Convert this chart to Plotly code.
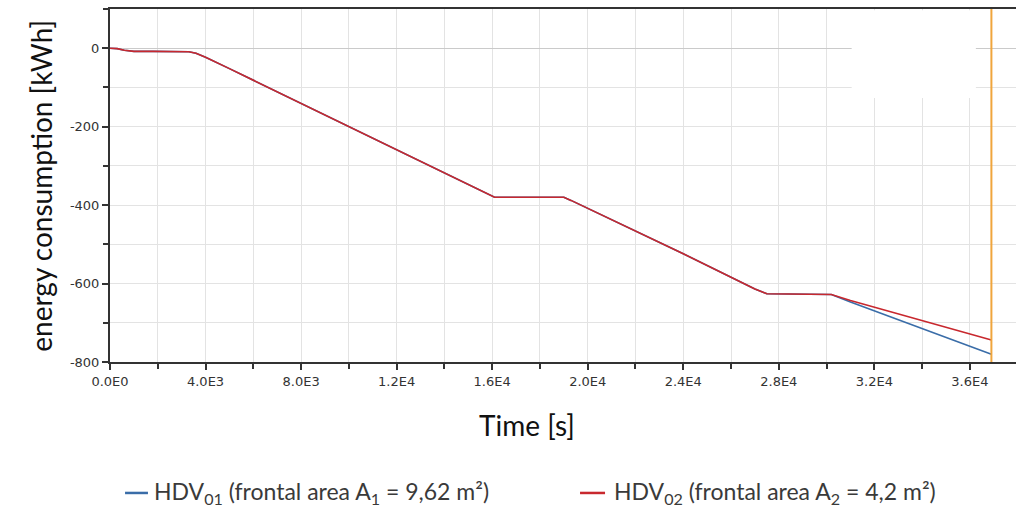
import plotly.graph_objects as go

# ---- data ----
time_s = [0, 300, 600, 1000, 1800, 3300, 3600, 4000, 5000, 8000, 12000, 16100,
          19000, 19300, 24000, 27000, 27500, 30200, 31000, 33000, 35000, 36900]
hdv01 = [0, -1, -5, -8, -8, -9, -13, -23, -52, -141, -260, -380,
         -380, -388, -524, -614, -626, -628, -647, -692, -737, -780]
hdv02 = [0, -1, -5, -8, -8, -9, -13, -23, -52, -141, -260, -380,
         -380, -388, -524, -614, -626, -628, -643, -677, -712, -744]

x_tickvals = [0, 4000, 8000, 12000, 16000, 20000, 24000, 28000, 32000, 36000]
x_ticktext = ["0.0E0", "4.0E3", "8.0E3", "1.2E4", "1.6E4", "2.0E4", "2.4E4", "2.8E4", "3.2E4", "3.6E4"]
y_tickvals = [0, -200, -400, -600, -800]
y_ticktext = ["0", "-200", "-400", "-600", "-800"]
cursor_t = 36900

series_names = ["HDV<sub>01</sub> (frontal area A<sub>1</sub> = 9,62 m²)",
                "HDV<sub>02</sub> (frontal area A<sub>2</sub> = 4,2 m²)"]
series_colors = ["#3A6DA8", "#C8282E"]

fig = go.Figure()
fig.add_trace(go.Scatter(x=time_s, y=hdv01, mode="lines", name=series_names[0],
                         line=dict(color=series_colors[0], width=1.6), showlegend=False))
fig.add_trace(go.Scatter(x=time_s, y=hdv02, mode="lines", name=series_names[1],
                         line=dict(color=series_colors[1], width=1.6), showlegend=False))

# masked area (white box) over gridlines
fig.add_shape(type="rect", xref="x", yref="y", x0=31050, x1=36250, y0=-127, y1=97,
              fillcolor="white", line=dict(width=0), layer="between")
# cursor line
fig.add_shape(type="line", xref="x", yref="paper", x0=cursor_t, x1=cursor_t, y0=0, y1=1,
              line=dict(color="#F0A53C", width=2), layer="above")

tickfont = dict(family="DejaVu Sans", size=13, color="#333333")
fig.update_xaxes(range=[0, 37930], tickvals=x_tickvals, ticktext=x_ticktext,
                 showgrid=True, gridcolor="#E3E3E3", gridwidth=1,
                 showline=True, linecolor="#333333", linewidth=2, mirror=True,
                 ticks="outside", ticklen=6, tickwidth=1.5, tickcolor="#333333",
                 tickfont=tickfont,
                 minor=dict(dtick=2000, tick0=0, ticks="outside", ticklen=5, tickwidth=1.5,
                            tickcolor="#333333", showgrid=True, gridcolor="#E3E3E3"),
                 zeroline=False)
fig.update_yaxes(range=[-800, 100], tickvals=y_tickvals, ticktext=y_ticktext,
                 showgrid=True, gridcolor="#E3E3E3", gridwidth=1,
                 showline=True, linecolor="#333333", linewidth=2,
                 ticks="outside", ticklen=6, tickwidth=1.5, tickcolor="#333333",
                 tickfont=tickfont,
                 minor=dict(dtick=100, tick0=0, ticks="outside", ticklen=5, tickwidth=1.5,
                            tickcolor="#333333", showgrid=True, gridcolor="#E3E3E3"),
                 zeroline=True, zerolinecolor="#CACACA", zerolinewidth=1.2)

fig.add_annotation(text="energy consumption [kWh]", xref="paper", yref="paper",
                   x=-0.077, y=0.5, textangle=-90, showarrow=False,
                   xanchor="center", yanchor="middle",
                   font=dict(family="Lato", size=28, color="#111111"))
fig.add_annotation(text="Time [s]", xref="paper", yref="paper",
                   x=0.460, y=-0.178, showarrow=False,
                   xanchor="center", yanchor="middle",
                   font=dict(family="Lato", size=28, color="#111111"))

# manual legend at the bottom
legend_y = -0.371
legend_line_x = [(0.0166, 0.0419), (0.5188, 0.5464)]
legend_text_x = [0.0464, 0.554]
for i in range(2):
    fig.add_shape(type="line", xref="paper", yref="paper",
                  x0=legend_line_x[i][0], x1=legend_line_x[i][1], y0=legend_y, y1=legend_y,
                  line=dict(color=series_colors[i], width=2.5))
    fig.add_annotation(text=series_names[i], xref="paper", yref="paper",
                       x=legend_text_x[i], y=legend_y, showarrow=False,
                       xanchor="left", yanchor="middle",
                       font=dict(family="Lato", size=23, color="#3A3A3A"))

fig.update_layout(
    width=1016, height=507,
    margin=dict(l=110, r=0, t=9, b=145),
    paper_bgcolor="white", plot_bgcolor="white",
    showlegend=False,
)

fig.write_html("out.html", config={"displayModeBar": False},
               post_script="document.body.style.margin='0';document.body.style.overflow='hidden';")
